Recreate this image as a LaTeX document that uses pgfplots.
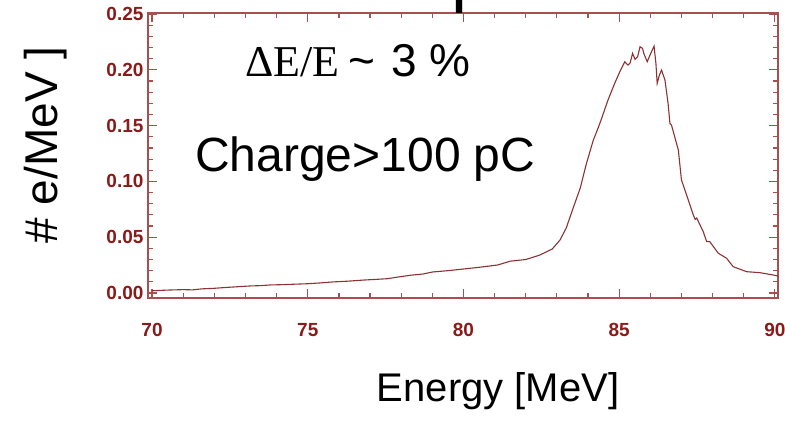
\documentclass[border=0pt]{standalone}
\usepackage{fontspec}
\setmainfont{Liberation Sans}
\newfontfamily\serif{Liberation Serif}
\usepackage{pgfplots}
\pgfplotsset{compat=1.18}
\definecolor{ticklab}{RGB}{139,26,26}
\definecolor{axisred}{RGB}{168,80,80}
\definecolor{curve}{RGB}{140,50,50}

\begin{document}
\begin{tikzpicture}[x=1pt,y=1pt]
\begin{axis}[
  at={(148pt,131pt)}, anchor=south west,
  scale only axis, width=630pt, height=285pt,
  xmin=69.87, xmax=90.1, ymin=-0.0045, ymax=0.251,
  xtick={70,75,80,85,90}, minor x tick num=4,
  ytick={0,0.05,0.1,0.15,0.2,0.25}, minor y tick num=4,
  tick align=inside,
  major tick length=9pt, minor tick length=5pt,
  axis line style={axisred, line width=1.4pt},
  every tick/.append style={axisred, line width=1.2pt},
  ticklabel style={font=\fontsize{19}{19}\selectfont\bfseries, text=ticklab},
  /pgf/number format/assume math mode=true,
  yticklabel style={xshift=-1pt, /pgf/number format/.cd, fixed, fixed zerofill, precision=2},
  xticklabel style={yshift=-22pt},
]
\addplot[curve, line width=1.1pt] table {
70.00 0.0020
70.50 0.0026
71.00 0.0030
71.30 0.0028
71.60 0.0037
72.00 0.0042
72.40 0.0050
72.80 0.0057
73.15 0.0063
73.50 0.0066
73.80 0.0072
74.10 0.0074
74.60 0.0079
75.00 0.0083
75.40 0.0090
75.80 0.0099
76.30 0.0106
76.80 0.0116
77.20 0.0122
77.55 0.0128
77.90 0.0143
78.30 0.0159
78.70 0.0170
79.00 0.0188
79.50 0.0200
80.00 0.0215
80.50 0.0230
81.10 0.0251
81.50 0.0285
82.00 0.0300
82.45 0.0340
82.85 0.0394
83.10 0.0475
83.30 0.0582
83.50 0.0744
83.75 0.0941
83.95 0.1162
84.17 0.1371
84.32 0.1476
84.44 0.1568
84.64 0.1729
84.86 0.1882
85.02 0.1983
85.18 0.2073
85.28 0.2043
85.35 0.2061
85.43 0.2148
85.51 0.2094
85.59 0.2117
85.67 0.2207
85.75 0.2193
85.79 0.2148
85.90 0.2073
85.99 0.2133
86.12 0.2213
86.18 0.2058
86.22 0.1879
86.29 0.1953
86.36 0.1998
86.47 0.1909
86.57 0.1700
86.63 0.1520
86.68 0.1505
86.90 0.1281
87.00 0.1013
87.22 0.0833
87.38 0.0699
87.44 0.0660
87.49 0.0672
87.70 0.0549
87.81 0.0460
87.91 0.0460
88.18 0.0357
88.45 0.0311
88.66 0.0236
89.09 0.0191
89.52 0.0182
89.95 0.0161
90.10 0.0152
};
\end{axis}

% annotations
\node[anchor=base west, inner sep=0pt] at (245,352)
  {{\serif\fontsize{44}{44}\selectfont ΔE/E\hspace{9pt}}{\fontsize{46}{46}\selectfont\char"007E\hspace{16pt}3 \%}};
\node[anchor=base west, inner sep=0pt, font=\fontsize{48}{48}\selectfont] at (195,257) {Charge>100 pC};
\node[anchor=base, inner sep=0pt, font=\fontsize{40}{40}\selectfont] at (498,28) {Energy [MeV]};
\node[anchor=base, inner sep=0pt, rotate=90, font=\fontsize{46}{46}\selectfont] at (57,284) {\# e/MeV ]};
% title above the frame, only its descender falls inside the page
\node[anchor=base west, inner sep=0pt, font=\fontsize{72}{72}\selectfont] at (451,430.5) {p};

\pgfresetboundingbox
\path[use as bounding box] (0,0) rectangle (785,429);
\end{tikzpicture}
\end{document}
